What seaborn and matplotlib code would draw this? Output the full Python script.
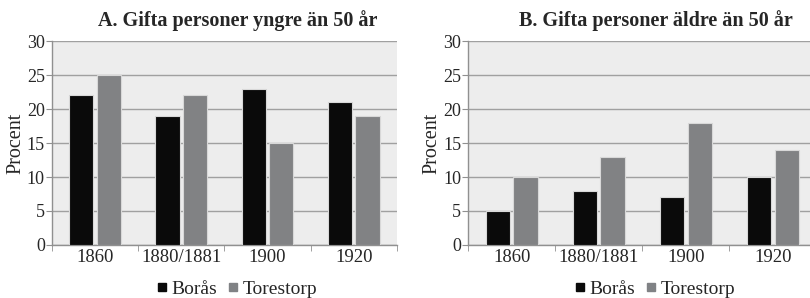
import matplotlib
matplotlib.use("Agg")
import matplotlib.pyplot as plt
import seaborn as sns
import pandas as pd
from matplotlib.lines import Line2D

years = ["1860", "1880/1881", "1900", "1920"]
places = ["Borås", "Torestorp"]
boras_young = [22, 19, 23, 21]
tore_young = [25, 22, 15, 19]
boras_old = [5, 8, 7, 10]
tore_old = [10, 13, 18, 14]
titles = ["A. Gifta personer yngre än 50 år", "B. Gifta personer äldre än 50 år"]

colors = {"Borås": "#0a0a0a", "Torestorp": "#808285"}


def make_df(boras, tore):
    rows = []
    for y, b, t in zip(years, boras, tore):
        rows.append({"year": y, "place": "Borås", "value": b})
        rows.append({"year": y, "place": "Torestorp", "value": t})
    return pd.DataFrame(rows)


sns.set_style("white")
plt.rcParams['font.family'] = ['Liberation Serif', 'DejaVu Serif']

fig = plt.figure(figsize=(8.1, 2.98), dpi=100)
ax1 = fig.add_axes([0.064, 0.178, 0.426, 0.684])
ax2 = fig.add_axes([0.578, 0.178, 0.43, 0.684])

panels = [(ax1, make_df(boras_young, tore_young)), (ax2, make_df(boras_old, tore_old))]

for i, (ax, df) in enumerate(panels):
    sns.barplot(data=df, x="year", y="value", hue="place", order=years, hue_order=places,
                palette=colors, width=0.64, gap=0.12, ax=ax, legend=False,
                edgecolor="#d8d8d8", linewidth=0.8, zorder=3)
    ax.set_facecolor("#ededed")
    ax.set_ylim(0, 30)
    ax.set_xlim(-0.5, 3.5)
    ax.set_yticks([0, 5, 10, 15, 20, 25, 30])
    ax.yaxis.grid(True, color="#a0a0a0", linewidth=1.0, zorder=0)
    ax.set_axisbelow(True)
    for s in ["top", "right"]:
        ax.spines[s].set_visible(False)
    for s in ["left", "bottom"]:
        ax.spines[s].set_color("#909090")
        ax.spines[s].set_linewidth(1.0)
    ax.set_xlabel("")
    ax.set_ylabel("Procent", fontsize=14.5, labelpad=1)
    ax.tick_params(axis="y", labelsize=13, length=4, color="#909090", pad=1, direction="out", left=True)
    ax.tick_params(axis="x", labelsize=13.5, length=0, pad=3)
    ax.set_xticks([-0.5, 0.5, 1.5, 2.5, 3.5], minor=True)
    ax.tick_params(axis="x", which="minor", length=4, color="#909090", bottom=True, direction="out")
    ax.set_title(titles[i], fontsize=14.5, fontweight="bold", x=0.54, pad=11)
    handles = [Line2D([], [], marker="s", linestyle="", markersize=6, color=colors[p]) for p in places]
    ax.legend(handles, places, loc="center", bbox_to_anchor=(0.53, -0.215), ncol=2,
              frameon=False, fontsize=14, handletextpad=0.0, columnspacing=0.3, handlelength=1.0,
              borderpad=0.1)

fig.savefig("out.png", dpi=100)
